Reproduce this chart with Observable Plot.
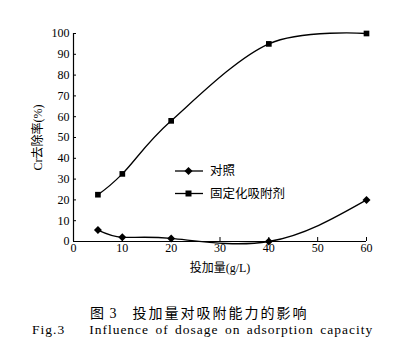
<!DOCTYPE html>
<html><head><meta charset="utf-8">
<script src="https://cdn.jsdelivr.net/npm/d3@7"></script>
<script src="https://cdn.jsdelivr.net/npm/@observablehq/plot@0.6"></script>
<style>
body{margin:0;background:#fff;width:396px;height:359px;position:relative;overflow:hidden;}
#chart{position:absolute;left:0;top:0;}
.cap{position:absolute;font-family:"Liberation Serif","Noto Sans CJK SC",serif;color:#000;white-space:nowrap;}
</style></head>
<body>
<div id="chart"></div>
<div class="cap" id="cap1" style="top:302px;left:90px;font-size:14px;letter-spacing:2px;">图<span style="letter-spacing:0">&nbsp;</span>3<span style="display:inline-block;width:14px"></span>投加量对吸附能力的影响</div>
<div class="cap" id="cap2" style="top:322px;left:32px;font-size:13.5px;word-spacing:2px;letter-spacing:1px;">Fig.3<span style="display:inline-block;width:24px"></span>Influence of dosage on adsorption capacity</div>
<script>
const dosage = [5, 10, 20, 40, 60];
const controlValues = [5.5, 2, 1.5, 0, 20];
const immobilizedValues = [22.5, 32.5, 58, 95, 100];
const seriesNames = ["对照", "固定化吸附剂"];
const xTicks = [0, 10, 20, 30, 40, 50, 60];
const yTicks = [0, 10, 20, 30, 40, 50, 60, 70, 80, 90, 100];

const control = dosage.map((x, i) => ({x, y: controlValues[i], s: seriesNames[0]}));
const immob = dosage.map((x, i) => ({x, y: immobilizedValues[i], s: seriesNames[1]}));

const font = '"Liberation Serif","Noto Sans CJK SC",serif';
const plot = Plot.plot({
  width: 396, height: 285,
  marginLeft: 73, marginRight: 30, marginTop: 33, marginBottom: 44,
  style: {fontFamily: font, fontSize: "12px", color: "#000", background: "#fff"},
  x: {domain: [0, 60]},
  y: {domain: [0, 100]},
  marks: [
    Plot.axisY({ticks: yTicks, tickSize: -3, tickPadding: 7, label: "Cr去除率(%)", labelAnchor: "center", labelArrow: "none", labelOffset: 40, fontSize: 12}),
    Plot.axisX({ticks: xTicks, tickSize: -4, tickPadding: 6, label: "投加量(g/L)", labelAnchor: "center", labelArrow: "none", labelOffset: 30, fontSize: 12}),
    Plot.ruleX([0], {stroke: "#000", strokeWidth: 1.2}),
    Plot.ruleY([0], {stroke: "#000", strokeWidth: 1.2}),
    Plot.line(immob, {x: "x", y: "y", curve: "cardinal", tension: 0, stroke: "#000", strokeWidth: 1.3}),
    Plot.line(control, {x: "x", y: "y", curve: "natural", stroke: "#000", strokeWidth: 1.3}),
    Plot.dot(immob, {x: "x", y: "y", symbol: "square", fill: "#000", r: 3.2}),
    Plot.dot(control, {x: "x", y: "y", symbol: "diamond2", fill: "#000", r: 3.6})
  ]
});
document.getElementById("chart").appendChild(plot);

// legend inside plot area
const svg = d3.select(plot);
const leg = svg.append("g").attr("font-family", font).attr("font-size", 12.5).attr("text-anchor", "start");
const symbols = [d3.symbol().type(d3.symbolDiamond2).size(42), d3.symbol().type(d3.symbolSquare).size(36)];
seriesNames.forEach((name, i) => {
  const y = 171 + i * 22.5;
  leg.append("line").attr("x1", 175).attr("x2", 203).attr("y1", y).attr("y2", y).attr("stroke", "#000").attr("stroke-width", 1.3);
  leg.append("path").attr("d", symbols[i]()).attr("transform", `translate(188.5,${y})`).attr("fill", "#000");
  leg.append("text").attr("x", 210).attr("y", y).attr("dy", "0.35em").attr("fill", "#000").text(name);
});
</script>
</body></html>
